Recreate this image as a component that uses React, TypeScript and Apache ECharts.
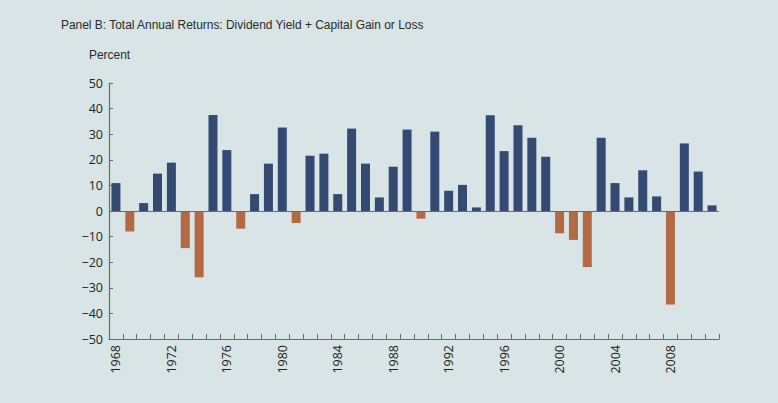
import React, { useEffect, useRef } from "react";
import * as echarts from "echarts";

const years: string[] = [
  "1968", "1969", "1970", "1971", "1972", "1973", "1974", "1975", "1976", "1977",
  "1978", "1979", "1980", "1981", "1982", "1983", "1984", "1985", "1986", "1987",
  "1988", "1989", "1990", "1991", "1992", "1993", "1994", "1995", "1996", "1997",
  "1998", "1999", "2000", "2001", "2002", "2003", "2004", "2005", "2006", "2007",
  "2008", "2009", "2010", "2011",
];

const totalReturns: number[] = [
  10.9, -8.0, 3.1, 14.6, 18.9, -14.5, -25.9, 37.5, 23.8, -6.9,
  6.6, 18.5, 32.6, -4.7, 21.6, 22.4, 6.6, 32.2, 18.5, 5.3,
  17.3, 31.8, -3.0, 31.0, 7.9, 10.2, 1.4, 37.4, 23.4, 33.5,
  28.6, 21.2, -8.7, -11.3, -21.9, 28.6, 10.9, 5.3, 15.9, 5.7,
  -36.5, 26.4, 15.4, 2.2,
];

const titleText = "Panel B: Total Annual Returns: Dividend Yield + Capital Gain or Loss";
const yAxisName = "Percent";

const BLUE = "#344a72";
const ORANGE = "#b36a44";
const BG = "#d8e4e6";

export default function App() {
  const ref = useRef<HTMLDivElement>(null);

  useEffect(() => {
    if (!ref.current) return;
    const chart = echarts.init(ref.current, null, { renderer: "svg" });
    const titleFont = "'Liberation Sans', Arial, sans-serif";
    chart.setOption({
      animation: false,
      backgroundColor: BG,
      graphic: [
        {
          type: "text",
          x: 61,
          y: 24,
          scaleX: 0.885,
          style: {
            text: titleText,
            fontFamily: titleFont,
            fontSize: 13.5,
            fill: "#2a2a2a",
            verticalAlign: "middle",
          },
        },
        {
          type: "text",
          x: 89,
          y: 54,
          scaleX: 0.885,
          style: {
            text: yAxisName,
            fontFamily: titleFont,
            fontSize: 13.5,
            fill: "#2a2a2a",
            verticalAlign: "middle",
          },
        },
      ],
      grid: { left: 109, right: 59, top: 83, bottom: 64, containLabel: false },
      xAxis: {
        type: "category",
        data: years,
        boundaryGap: true,
        axisLine: { onZero: false, lineStyle: { color: "#6b6b6b", width: 1.2 } },
        axisTick: {
          show: true,
          inside: true,
          length: 5,
          interval: 0,
          lineStyle: { color: "#6b6b6b" },
        },
        axisLabel: {
          interval: 3,
          rotate: 90,
          margin: 6,
          fontFamily: "'Open Sans', sans-serif",
          fontSize: 12.5,
          color: "#222",
        },
        splitLine: { show: false },
      },
      yAxis: {
        type: "value",
        min: -50,
        max: 50,
        interval: 10,
        axisLine: { show: true, lineStyle: { color: "#6b6b6b", width: 1.2 } },
        axisTick: { show: true, inside: true, length: 4, lineStyle: { color: "#6b6b6b" } },
        axisLabel: {
          margin: 6,
          fontFamily: "'Open Sans', sans-serif",
          fontSize: 12.5,
          color: "#222",
          formatter: (v: number) => String(v).replace("-", "\u2212"),
        },
        splitLine: { show: false },
      },
      series: [
        {
          type: "bar",
          data: totalReturns,
          barWidth: 9,
          itemStyle: {
            color: (p: any) => (p.value >= 0 ? BLUE : ORANGE),
          },
          markLine: {
            silent: true,
            symbol: "none",
            label: { show: false },
            lineStyle: { color: "#6b6b6b", width: 1.2, type: "solid" },
            data: [{ yAxis: 0 }],
          },
        },
      ],
    });
    return () => chart.dispose();
  }, []);

  return (
    <div
      ref={ref}
      style={{ position: "fixed", left: 0, top: 0, width: 778, height: 403 }}
    />
  );
}
